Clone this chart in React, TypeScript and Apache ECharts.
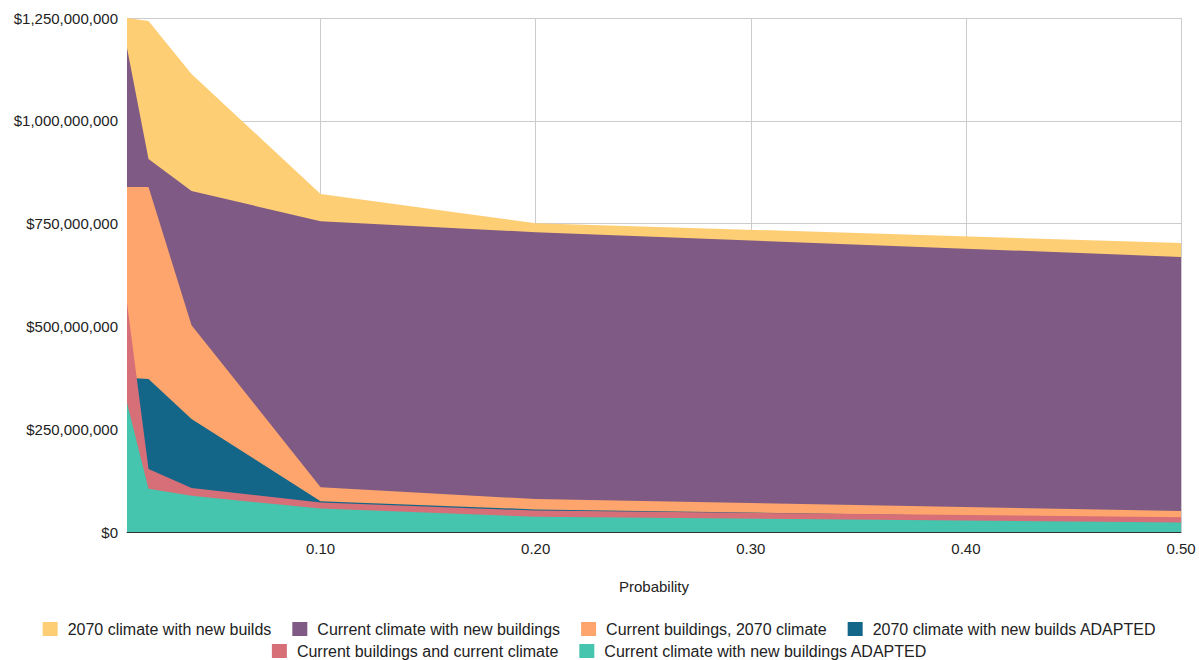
import React, { useEffect, useRef } from "react";
import * as echarts from "echarts";

const probabilities = [0.01, 0.02, 0.04, 0.1, 0.2, 0.5];
const xTickValues = [0.1, 0.2, 0.3, 0.4, 0.5];

const seriesNames = [
  "2070 climate with new builds",
  "Current climate with new buildings",
  "Current buildings, 2070 climate",
  "2070 climate with new builds ADAPTED",
  "Current buildings and current climate",
  "Current climate with new buildings ADAPTED",
];
const seriesColors = ["#fece75", "#7e5a84", "#fda56c", "#146689", "#d76f78", "#45c4ae"];

const climate2070NewBuilds = [1250000000, 1243000000, 1114000000, 822000000, 751000000, 703000000];
const currentClimateNewBuildings = [1177000000, 907000000, 829000000, 756000000, 729000000, 669000000];
const currentBuildings2070 = [839000000, 839000000, 503000000, 109000000, 80000000, 51000000];
const climate2070NewBuildsAdapted = [375000000, 372000000, 275000000, 75000000, 55000000, 32000000];
const currentBuildingsCurrent = [557000000, 153000000, 107000000, 72000000, 52000000, 36000000];
const currentClimateNewAdapted = [314000000, 105000000, 88000000, 57000000, 37000000, 23000000];

const seriesValues = [
  climate2070NewBuilds,
  currentClimateNewBuildings,
  currentBuildings2070,
  climate2070NewBuildsAdapted,
  currentBuildingsCurrent,
  currentClimateNewAdapted,
];

export default function App() {
  const ref = useRef<HTMLDivElement>(null);
  useEffect(() => {
    if (!ref.current) return;
    const chart = echarts.init(ref.current, null, { renderer: "svg" });
    const font = "'Liberation Sans', Arial, sans-serif";
    const legendBase = {
      left: "center",
      icon: "rect",
      itemWidth: 15,
      itemHeight: 14,
      itemGap: 21,
      textStyle: { fontSize: 16, color: "#222", fontFamily: font, padding: [0, 0, 0, 5] },
    };
    chart.setOption({
      animation: false,
      textStyle: { fontFamily: font },
      grid: { left: 127, right: 18, top: 18, bottom: 128, containLabel: false },
      legend: [
        { ...legendBase, data: seriesNames.slice(0, 4), top: 616 },
        { ...legendBase, data: seriesNames.slice(4), top: 638 },
      ],
      xAxis: {
        type: "value",
        min: 0.01,
        max: 0.5,
        name: "Probability",
        nameLocation: "middle",
        nameGap: 47,
        nameTextStyle: { fontSize: 15, color: "#222" },
        axisLine: { show: true, lineStyle: { color: "#333", width: 1 } },
        axisTick: { show: false, customValues: xTickValues },
        axisLabel: {
          customValues: xTickValues,
          fontSize: 15,
          color: "#222",
          margin: 9,
          formatter: (v: number) => v.toFixed(2),
        },
        splitLine: { show: true, lineStyle: { color: "#cccccc", width: 1 } },
      },
      yAxis: {
        type: "value",
        min: 0,
        max: 1250000000,
        interval: 250000000,
        axisLine: { show: false },
        axisTick: { show: false },
        axisLabel: {
          fontSize: 15,
          color: "#222",
          margin: 9,
          formatter: (v: number) => "$" + v.toLocaleString("en-US"),
        },
        splitLine: { show: true, lineStyle: { color: "#cccccc", width: 1 } },
      },
      series: seriesNames.map((name, i) => ({
        name,
        type: "line",
        data: probabilities.map((p, j) => [p, seriesValues[i][j]]),
        symbol: "none",
        color: seriesColors[i],
        lineStyle: { width: 0 },
        areaStyle: { color: seriesColors[i], opacity: 1 },
      })),
    });
    return () => chart.dispose();
  }, []);
  return <div ref={ref} style={{ width: 1199, height: 660, position: "absolute", left: 0, top: 0 }} />;
}
